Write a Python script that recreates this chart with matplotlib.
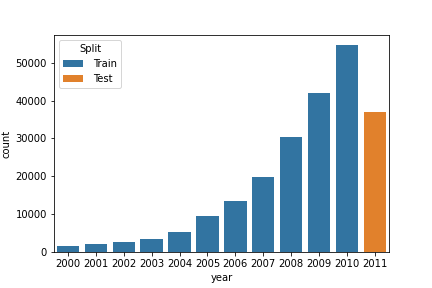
import pandas as pd
import matplotlib
matplotlib.use('Agg')
import matplotlib.pyplot as plt
import seaborn as sns

# counts per year
years = ['2000', '2001', '2002', '2003', '2004', '2005',
         '2006', '2007', '2008', '2009', '2010', '2011']
counts = [1580, 2100, 2640, 3430, 5270, 9490,
          13440, 19770, 30310, 41900, 54560, 36900]
split = ['Train'] * 11 + ['Test']

df = pd.DataFrame({'year': years, 'count': counts, 'Split': split})

fig, ax = plt.subplots(figsize=(6, 4), dpi=72)
sns.barplot(data=df, x='year', y='count', hue='Split', dodge=False, ax=ax)
ax.legend(title='Split', loc='upper left', handletextpad=1.0)

# axes box sits a bit higher than the default layout
fig.subplots_adjust(left=0.125, right=0.9, bottom=0.125, top=0.878)

plt.savefig('out.png')
